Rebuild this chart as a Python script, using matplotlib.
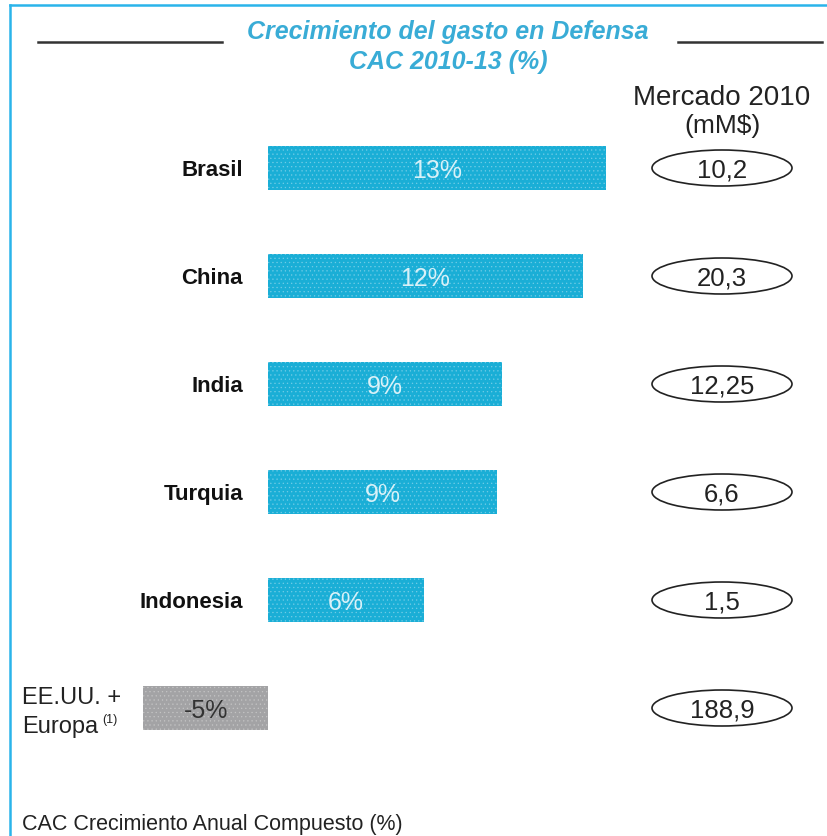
import matplotlib.pyplot as plt
from matplotlib.patches import Ellipse
from matplotlib.lines import Line2D

plt.rcParams["font.family"] = ["Liberation Sans", "DejaVu Sans"]
plt.rcParams["hatch.linewidth"] = 0.4

# data
paises = ["Brasil", "China", "India", "Turquia", "Indonesia", "EE.UU. +\nEuropa"]
cac = [13.0, 12.1, 9.0, 8.8, 6.0, -4.8]
cac_labels = ["13%", "12%", "9%", "9%", "6%", "-5%"]
mercado_2010 = ["10,2", "20,3", "12,25", "6,6", "1,5", "188,9"]

W, H = 827, 836
fig = plt.figure(figsize=(W / 100, H / 100), dpi=100)
fig.patch.set_facecolor("white")

# axes spanning the whole figure; x in %, y in row index
px_per_pct = 26.0
x0_px = 268.0
row0_px, row_step = 168.0, 108.0
ax = fig.add_axes([0, 0, 1, 1])
ax.set_xlim(-x0_px / px_per_pct, (W - x0_px) / px_per_pct)
ax.set_ylim((H - row0_px) / row_step, -row0_px / row_step)
ax.axis("off")

blue = "#1aaed6"
gray = "#a3a3a5"
ypos = list(range(len(paises)))
for y, v in zip(ypos, cac):
    pos = v >= 0
    ax.barh(y, v, height=0.40, color=blue if pos else gray,
            edgecolor="#72cce6" if pos else "#c4c4c4", linewidth=0, hatch="....")

for y, v, lab in zip(ypos, cac, cac_labels):
    tc = "#d9f1f8" if v >= 0 else "#333333"
    ax.text(v / 2, y, lab, ha="center", va="center_baseline", fontsize=18, color=tc)

# category labels
for y, name in zip(ypos[:-1], paises[:-1]):
    ax.text(-25 / px_per_pct, y, name, ha="right", va="center_baseline",
            fontsize=16, fontweight="bold", color="#111111")
ax.text(-246 / px_per_pct, ypos[-1] - 0.12, "EE.UU. +", ha="left", va="center_baseline",
        fontsize=17, color="#222222")
ax.text(-246 / px_per_pct, ypos[-1] + 0.15, "Europa", ha="left", va="center_baseline",
        fontsize=17, color="#222222")
ax.text(-166 / px_per_pct, ypos[-1] + 0.10, "(1)", ha="left", va="center_baseline",
        fontsize=9, color="#222222")

# market size ellipses
ex = (722 - x0_px) / px_per_pct
for y, m in zip(ypos, mercado_2010):
    ax.add_patch(Ellipse((ex, y), 140 / px_per_pct, 36 / row_step,
                         facecolor="white", edgecolor="#222222", lw=1.2))
    ax.text(ex, y, m, ha="center", va="center_baseline", fontsize=18.5, color="#222222")

# header
title_kw = dict(ha="center", va="center_baseline", fontsize=18, fontweight="bold",
                style="italic", color="#39acd6")
fig.text(448 / W, 1 - 30 / H, "Crecimiento del gasto en Defensa", **title_kw)
fig.text(448 / W, 1 - 59 / H, "CAC 2010-13 (%)", **title_kw)
fig.add_artist(Line2D([38 / W, 222 / W], [1 - 42 / H] * 2, color="#333333", lw=1.8))
fig.add_artist(Line2D([678 / W, 822 / W], [1 - 42 / H] * 2, color="#333333", lw=1.8))
fig.text(722 / W, 1 - 95 / H, "Mercado 2010", ha="center", va="center_baseline",
         fontsize=20, color="#222222")
fig.text(722 / W, 1 - 124 / H, "(mM$)", ha="center", va="center_baseline",
         fontsize=19, color="#222222")

# footnote
fig.text(22 / W, 1 - 822 / H, "CAC Crecimiento Anual Compuesto (%)", ha="left",
         va="center_baseline", fontsize=15.5, color="#222222")

# frame lines (top and left)
fig.add_artist(Line2D([10 / W, 1], [1 - 5 / H] * 2, color="#2ab4ea", lw=1.8))
fig.add_artist(Line2D([10 / W, 10 / W], [0, 1 - 5 / H], color="#2ab4ea", lw=1.8))

fig.savefig("out.png", dpi=100)
